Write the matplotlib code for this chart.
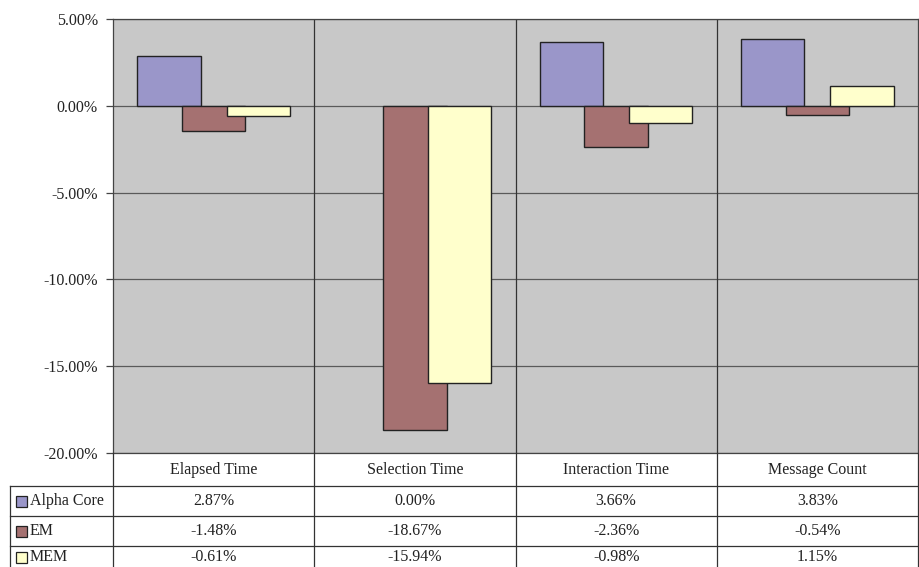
import matplotlib
matplotlib.use("Agg")
import matplotlib.pyplot as plt
import matplotlib.transforms as mtransforms
from matplotlib.patches import Rectangle
import numpy as np

categories = ["Elapsed Time", "Selection Time", "Interaction Time", "Message Count"]
series_names = ["Alpha Core", "EM", "MEM"]
alpha_core = [2.87, 0.00, 3.66, 3.83]
em = [-1.48, -18.67, -2.36, -0.54]
mem = [-0.61, -15.94, -0.98, 1.15]
yticks = [5, 0, -5, -10, -15, -20]

colors = ["#9A96C9", "#A57171", "#FFFFCC"]
edge = "#222222"
FS = 11.5
TC = "#222222"

W, H = 919, 567
plt.rcParams['font.family'] = ['Liberation Serif', 'DejaVu Serif']
fig = plt.figure(figsize=(W / 100, H / 100), dpi=100)

def fy(py):
    return 1 - py / H

def fx(px):
    return px / W

ax_left, ax_right, ax_top, ax_bot = 113, 918, 19, 453
ax = fig.add_axes([fx(ax_left), fy(ax_bot), fx(ax_right) - fx(ax_left), fy(ax_top) - fy(ax_bot)])
ax.set_facecolor("#C8C8C8")
ax.set_xlim(-0.5, 3.5)
ax.set_ylim(-20, 5)

x = np.arange(len(categories))
bw = 0.315
off = 0.222
all_series = [alpha_core, em, mem]
for i, vals in enumerate(all_series):
    lws = [1.0 if v != 0 else 0.0 for v in vals]
    ax.bar(x + (i - 1) * off, vals, width=bw, color=colors[i], edgecolor=edge,
           linewidth=lws, zorder=3 + i)

for yv in yticks:
    ax.axhline(yv, color="#5a5a5a", linewidth=0.9, zorder=2)
for xb in [0.5, 1.5, 2.5]:
    ax.axvline(xb, color="#333333", linewidth=0.9, zorder=2)

ax.set_yticks(yticks)
ax.set_yticklabels([f"{v:.2f}%" for v in yticks], fontsize=FS, color=TC)
ax.tick_params(axis="y", length=5, width=0.9, color="#444444", pad=6)
ax.set_xticks([])
for s in ax.spines.values():
    s.set_color("#444444")
    s.set_linewidth(0.9)

# data table
trans = mtransforms.blended_transform_factory(ax.transData, fig.transFigure)
row_tops = [453, 486, 516, 546, 576]
line_kw = dict(color="#333333", linewidth=0.9, clip_on=False)

for ry in row_tops[1:4]:
    fig.add_artist(plt.Line2D([fx(10), fx(918)], [fy(ry), fy(ry)], transform=fig.transFigure, **line_kw))
for xb in [-0.5, 0.5, 1.5, 2.5, 3.5]:
    fig.add_artist(plt.Line2D([xb, xb], [fy(453), fy(580)], transform=trans, **line_kw))
fig.add_artist(plt.Line2D([fx(10), fx(10)], [fy(486), fy(580)], transform=fig.transFigure, **line_kw))

for i, c in enumerate(categories):
    fig.text(i, fy((453 + 486) / 2 + 1), c, transform=trans, ha="center", va="center",
             fontsize=FS, color=TC)

for r, (name, vals) in enumerate(zip(series_names, all_series)):
    yc = (row_tops[r + 1] + row_tops[r + 2]) / 2
    if r == 2:
        yc = 557
    fig.add_artist(Rectangle((fx(16), fy(yc + 6)), fx(11), fy(0) - fy(11), transform=fig.transFigure,
                             facecolor=colors[r], edgecolor=edge, linewidth=0.9))
    fig.text(fx(30), fy(yc), name, ha="left", va="center", fontsize=FS, color=TC)
    for i, v in enumerate(vals):
        fig.text(i, fy(yc), f"{v:.2f}%", transform=trans, ha="center", va="center",
                 fontsize=FS, color=TC)

fig.savefig("out.png", dpi=100, facecolor="white")
